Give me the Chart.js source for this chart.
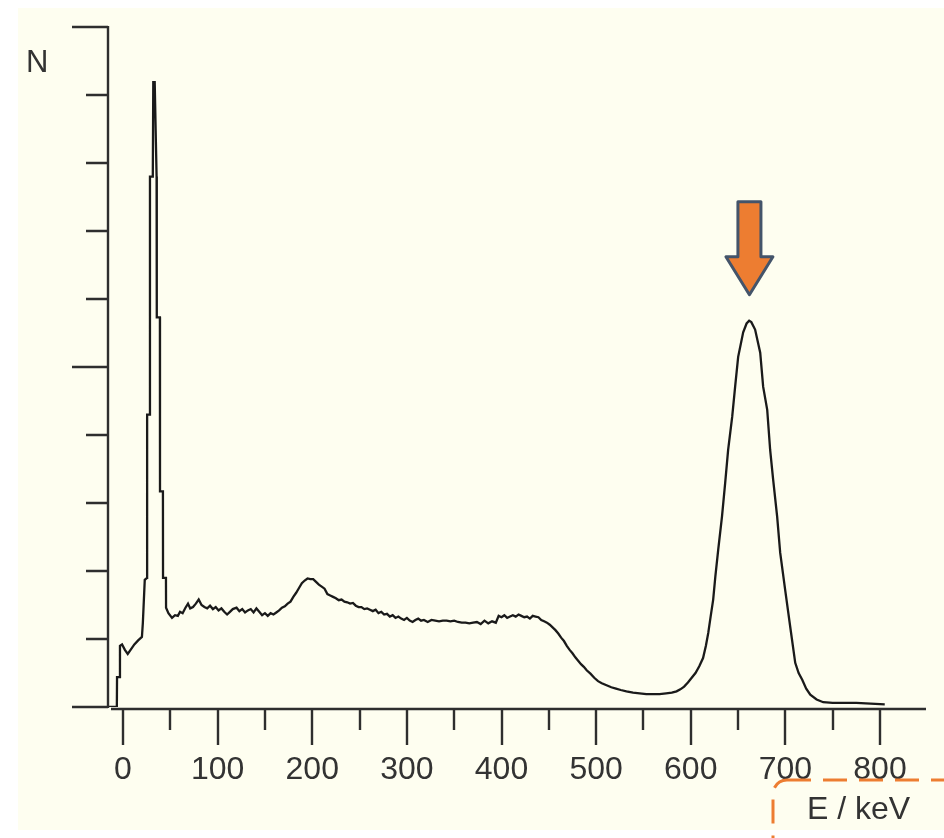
<!DOCTYPE html>
<html>
<head>
<meta charset="utf-8">
<script src="https://cdn.jsdelivr.net/npm/chart.js@4.4.1/dist/chart.umd.min.js"></script>
<style>
    html, body { margin: 0; padding: 0; background: #ffffff; }
    #wrap { position: relative; width: 944px; height: 838px; overflow: hidden; }
    #paper { position: absolute; left: 18px; top: 8px; width: 926px; height: 822px; background: #fefef0; }
    #spectrum { position: absolute; left: 0; top: 0; }
    #notes { position: absolute; left: 0; top: 0; }
</style>
</head>
<body>
<div id="wrap">
    <div id="paper"></div>
    <canvas id="spectrum" width="944" height="838"></canvas>
    <svg id="notes" width="944" height="838">
        <text x="26" y="72" font-family="Liberation Sans, Arial, sans-serif" font-size="31" fill="#333333">N</text>
        <rect x="773" y="780" width="200" height="90" rx="14" ry="14" fill="none" stroke="#ed7d31" stroke-width="3" stroke-dasharray="24 12"></rect>
        <text x="807" y="819" font-family="Liberation Sans, Arial, sans-serif" font-size="32" fill="#333333">E / keV</text>
    </svg>
</div>
<script>
    // energy (keV) and counts (in units of one y tick)
    var energy = [-15.5, -6.5, -6.3, -3.4, -3.2, -1, 2, 5, 8, 12, 16, 20, 21, 23, 25.4, 25.5, 28.4, 28.5, 31.5, 32, 33.5, 35.5, 35.7, 39.0, 39.1, 42.2, 42.3, 45.4, 45.5, 48, 51.8,
        55, 58, 60.3, 63, 66, 68.7, 71, 74, 77, 80, 83, 86, 89, 92, 95, 98, 101, 104, 107, 110, 113, 116, 120, 123, 126, 129, 132, 135, 138, 141, 144, 147, 150,
        153, 156, 159, 162, 165, 168, 171, 174, 177, 180, 183, 186, 189, 192, 195, 198, 201, 204, 207, 210, 213, 216, 219, 222, 225, 228, 231, 234, 237, 240,
        243, 246, 249, 252, 255, 258, 261, 264, 267, 270, 273, 276, 279, 282, 285, 288, 291, 294, 297, 300, 303, 306, 309, 312, 315, 318, 322, 326, 330, 334,
        338, 342, 346, 350, 354, 358, 362, 366, 370, 374, 378, 382, 386, 390, 394, 397, 400, 403, 406, 409, 412, 415, 418, 421, 424, 427, 430, 433, 436, 439,
        442, 445, 448, 451, 454, 457, 460, 463, 466, 469, 472, 475, 478, 481, 484, 487, 490, 494, 498, 502, 506, 511, 516, 521, 526, 532, 539, 546, 553, 560,
        567, 574, 580, 585, 589, 593, 597, 601, 605, 609, 613, 616, 618.5, 621, 623.7, 626, 629, 633, 636.4, 639.5, 643.8, 646.9, 650.1, 655.4, 659, 661.7, 664,
        668, 673.4, 676.5, 680.8, 683.9, 687.1, 691.3, 694.5, 699.8, 705.1, 710.4, 714, 717.8, 722, 726.3, 733, 740, 750, 760, 775, 790, 805];
    var counts = [0, 0, 0.44, 0.44, 0.90, 0.92, 0.84, 0.78, 0.84, 0.92, 0.98, 1.03, 1.24, 1.87, 1.90, 4.30, 4.30, 7.80, 7.80, 9.19, 9.19, 7.80, 5.73, 5.73, 3.17, 3.17, 1.90, 1.90, 1.46, 1.38, 1.31,
        1.35, 1.34, 1.40, 1.38, 1.46, 1.52, 1.45, 1.47, 1.52, 1.58, 1.50, 1.47, 1.45, 1.49, 1.44, 1.47, 1.42, 1.45, 1.40, 1.36, 1.40, 1.44, 1.46, 1.41, 1.44, 1.39, 1.42, 1.44, 1.39, 1.45, 1.40, 1.35, 1.38,
        1.34, 1.38, 1.36, 1.39, 1.42, 1.46, 1.48, 1.52, 1.55, 1.62, 1.68, 1.75, 1.82, 1.86, 1.89, 1.88, 1.88, 1.84, 1.80, 1.77, 1.74, 1.66, 1.64, 1.62, 1.60, 1.57, 1.58, 1.55, 1.54, 1.52,
        1.53, 1.49, 1.47, 1.47, 1.44, 1.45, 1.43, 1.41, 1.43, 1.38, 1.40, 1.36, 1.37, 1.33, 1.35, 1.31, 1.33, 1.30, 1.28, 1.31, 1.27, 1.25, 1.28, 1.30, 1.27, 1.28, 1.25, 1.28, 1.27, 1.26,
        1.27, 1.27, 1.26, 1.27, 1.25, 1.24, 1.24, 1.23, 1.24, 1.25, 1.22, 1.27, 1.23, 1.26, 1.24, 1.34, 1.32, 1.35, 1.31, 1.33, 1.35, 1.33, 1.36, 1.34, 1.32, 1.33, 1.30, 1.34, 1.33, 1.32,
        1.28, 1.26, 1.24, 1.21, 1.17, 1.13, 1.08, 1.02, 0.97, 0.90, 0.84, 0.79, 0.73, 0.68, 0.63, 0.59, 0.54, 0.49, 0.43, 0.38, 0.35, 0.32, 0.29, 0.27, 0.25, 0.23, 0.21, 0.20, 0.19, 0.19,
        0.19, 0.20, 0.21, 0.23, 0.26, 0.30, 0.36, 0.43, 0.50, 0.60, 0.72, 0.90, 1.09, 1.33, 1.58, 1.92, 2.31, 2.80, 3.30, 3.78, 4.27, 4.71, 5.15, 5.51, 5.64, 5.68, 5.66,
        5.55, 5.21, 4.71, 4.37, 3.78, 3.34, 2.80, 2.27, 1.72, 1.18, 0.65, 0.50, 0.40, 0.27, 0.18, 0.11, 0.07, 0.06, 0.06, 0.06, 0.05, 0.04];

    var xTicks = [0, 50, 100, 150, 200, 250, 300, 350, 400, 450, 500, 550, 600, 650, 700, 750, 800];
    var xLabels = ["0", "", "100", "", "200", "", "300", "", "400", "", "500", "", "600", "", "700", "", "800"];
    var yTicks = [0, 1, 2, 3, 4, 5, 6, 7, 8, 9, 10];
    var peakEnergy = 662;
    var peakCounts = 5.68;

    var points = [];
    for (var i = 0; i < energy.length; i++) {
        points.push({ x: energy[i], y: counts[i] });
    }

    // axes, ticks, labels and the arrow, all placed through the chart scales
    var axesPlugin = {
        id: 'axesPlugin',
        afterDraw: function (chart) {
            var ctx = chart.ctx;
            var xs = chart.scales.x;
            var ys = chart.scales.y;
            var area = chart.chartArea;
            var axisY = ys.getPixelForValue(0) + 2;
            ctx.save();
            ctx.strokeStyle = '#2e2e2e';
            ctx.lineWidth = 2.4;
            ctx.lineCap = 'butt';

            ctx.beginPath();
            ctx.moveTo(area.left, ys.getPixelForValue(10) - 1);
            ctx.lineTo(area.left, ys.getPixelForValue(0) + 1);
            for (var i = 0; i < yTicks.length; i++) {
                var py = Math.round(ys.getPixelForValue(yTicks[i]));
                var len = yTicks[i] % 5 === 0 ? 36 : 22;
                ctx.moveTo(area.left - len, py);
                ctx.lineTo(area.left, py);
            }
            ctx.stroke();

            ctx.beginPath();
            ctx.moveTo(area.left + 3, axisY);
            ctx.lineTo(area.right, axisY);
            for (var j = 0; j < xTicks.length; j++) {
                var px = Math.round(xs.getPixelForValue(xTicks[j]));
                var tl = xTicks[j] % 100 === 0 ? 36 : 21;
                ctx.moveTo(px, axisY);
                ctx.lineTo(px, axisY + tl);
            }
            ctx.stroke();

            ctx.fillStyle = '#333333';
            ctx.font = '32px "Liberation Sans", Arial, sans-serif';
            ctx.textAlign = 'center';
            ctx.textBaseline = 'alphabetic';
            for (var k = 0; k < xTicks.length; k++) {
                if (xLabels[k]) {
                    ctx.fillText(xLabels[k], xs.getPixelForValue(xTicks[k]), axisY + 70);
                }
            }

            // arrow pointing at the photopeak
            var cx = xs.getPixelForValue(peakEnergy);
            var tip = ys.getPixelForValue(peakCounts) - 26;
            ctx.beginPath();
            ctx.moveTo(cx - 11.5, tip - 93);
            ctx.lineTo(cx + 11.5, tip - 93);
            ctx.lineTo(cx + 11.5, tip - 38);
            ctx.lineTo(cx + 23.5, tip - 38);
            ctx.lineTo(cx, tip);
            ctx.lineTo(cx - 23.5, tip - 38);
            ctx.lineTo(cx - 11.5, tip - 38);
            ctx.closePath();
            ctx.fillStyle = '#ed7d31';
            ctx.fill();
            ctx.lineJoin = 'round';
            ctx.lineWidth = 3;
            ctx.strokeStyle = '#44546a';
            ctx.stroke();
            ctx.restore();
        }
    };

    new Chart(document.getElementById('spectrum'), {
        type: 'line',
        data: {
            datasets: [{
                data: points,
                borderColor: '#1a1a1a',
                borderWidth: 2.3,
                pointRadius: 0,
                tension: 0,
                fill: false
            }]
        },
        options: {
            responsive: false,
            animation: false,
            events: [],
            layout: { padding: { left: 108, top: 27, right: 18, bottom: 131 } },
            plugins: { legend: { display: false }, tooltip: { enabled: false } },
            scales: {
                x: { type: 'linear', min: -15.85, max: 848.6, display: false },
                y: { type: 'linear', min: 0, max: 10, display: false }
            }
        },
        plugins: [axesPlugin]
    });
</script>
</body>
</html>
